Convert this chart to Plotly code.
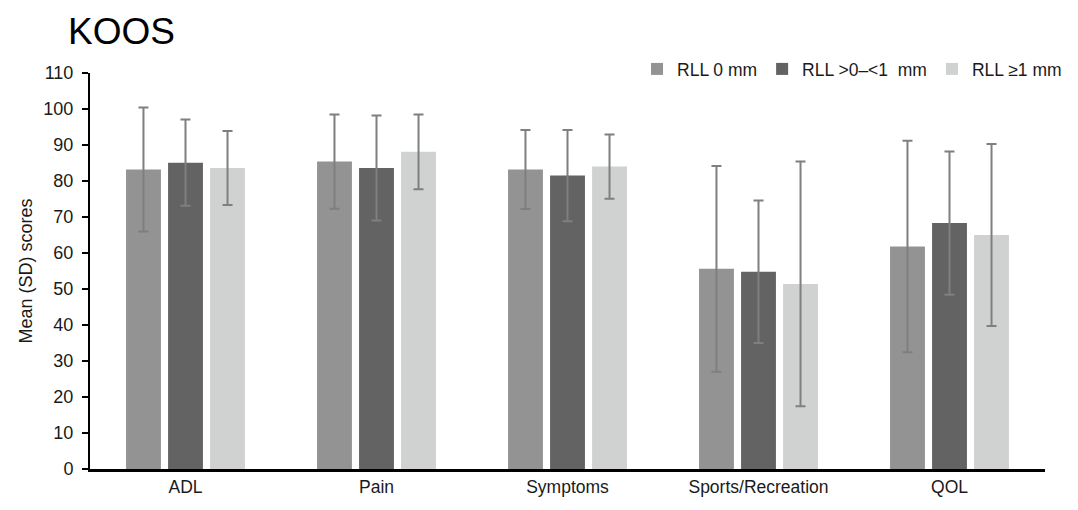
import plotly.graph_objects as go

categories = ["ADL", "Pain", "Symptoms", "Sports/Recreation", "QOL"]
series_names = ["RLL 0 mm", "RLL >0\u2013<1  mm", "RLL \u22651 mm"]
means_0 = [83.2, 85.4, 83.2, 55.6, 61.8]
sd_0 = [17.2, 13.1, 11.0, 28.6, 29.4]
means_1 = [85.1, 83.6, 81.5, 54.8, 68.3]
sd_1 = [12.0, 14.6, 12.7, 19.8, 19.9]
means_2 = [83.6, 88.1, 84.0, 51.4, 65.0]
sd_2 = [10.3, 10.4, 8.9, 34.0, 25.3]
colors = ["#939393", "#636363", "#d0d2d1"]
y_ticks = list(range(0, 111, 10))

fig = go.Figure()
for name, m, s, c in zip(series_names, [means_0, means_1, means_2], [sd_0, sd_1, sd_2], colors):
    fig.add_trace(go.Bar(
        x=categories, y=m, name=name, marker=dict(color=c, line=dict(width=0)),
        error_y=dict(type="data", array=s, visible=True, color="#7f7f7f", thickness=2, width=5),
    ))

font_family = "Liberation Sans, Arial, sans-serif"
# page body has an 8px margin; figure is sized/offset to compensate
fig.update_layout(
    width=1070, height=502,
    margin=dict(l=82, r=32, t=65, b=41),
    paper_bgcolor="white", plot_bgcolor="white",
    barmode="group", bargap=0.34, bargroupgap=0.17,
    font=dict(family=font_family, size=18, color="#1a1a1a"),
    title=dict(text="KOOS", font=dict(size=37, color="#000000", family=font_family),
               x=60/1070, xanchor="left", y=1-23/502, yanchor="middle"),
    legend=dict(orientation="h", x=1.022, xanchor="right", y=1.01, yanchor="middle",
                font=dict(size=17.5, color="#1a1a1a"), itemwidth=30, tracegroupgap=0,
                bgcolor="rgba(0,0,0,0)"),
    showlegend=True,
)
fig.update_yaxes(range=[0, 110], tickvals=y_ticks, showline=True, linecolor="#000000", linewidth=2,
                 ticks="outside", ticklen=6, tickcolor="#000000", tickwidth=2, showgrid=False,
                 zeroline=False, automargin=False, ticklabelstandoff=5,
                 title=dict(text="Mean (SD) scores", font=dict(size=18), standoff=6),
                 tickfont=dict(size=18))
fig.update_xaxes(showline=True, linecolor="#000000", linewidth=3, ticks="", showgrid=False,
                 automargin=False, tickfont=dict(size=17.5))
fig.write_html("out.html")
